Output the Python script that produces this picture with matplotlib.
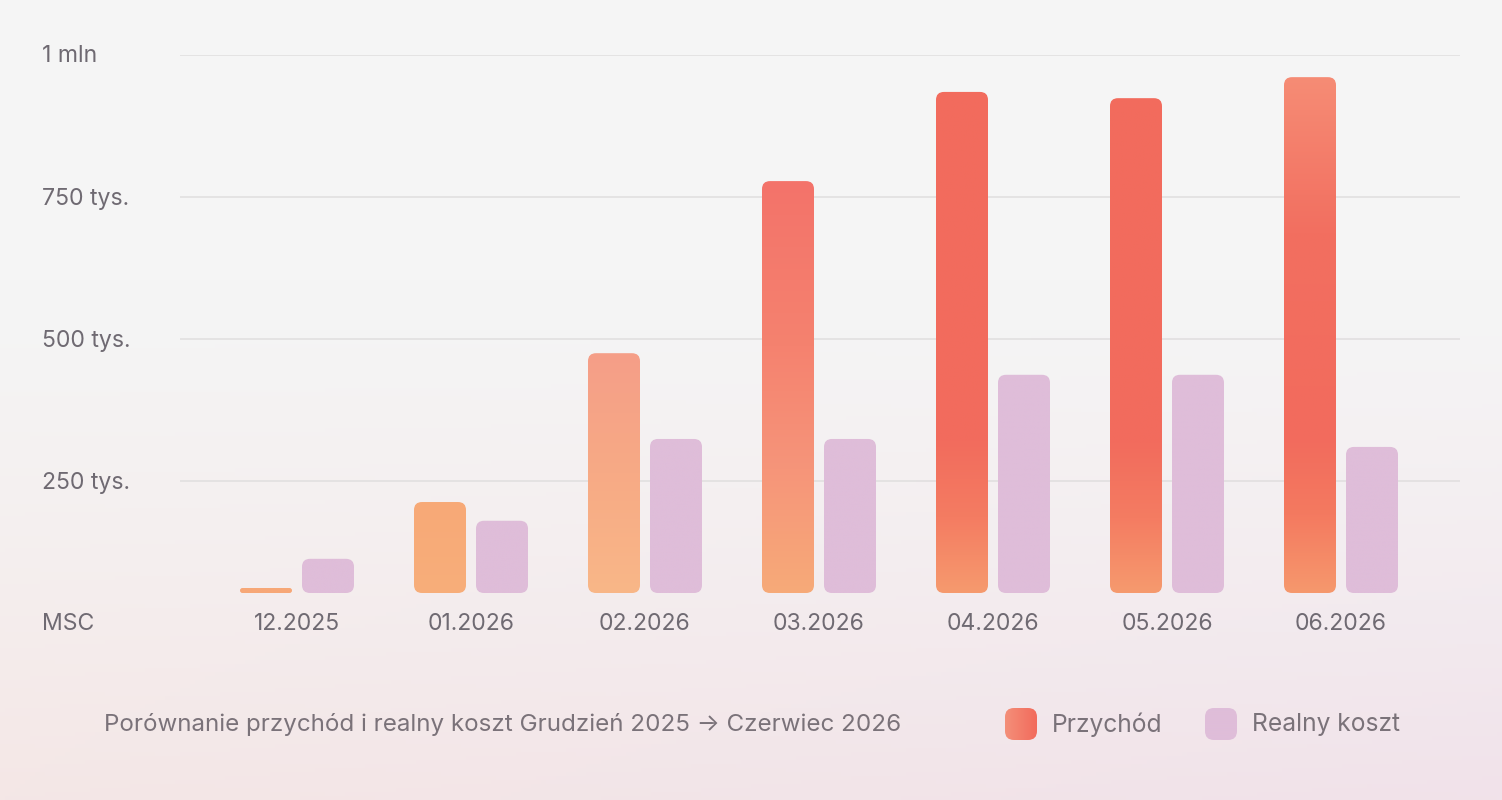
import numpy as np
import matplotlib.pyplot as plt
from matplotlib.patches import FancyBboxPatch
from matplotlib.colors import LinearSegmentedColormap, to_rgb

plt.rcParams['font.family'] = ['Inter', 'DejaVu Sans']

# data (PLN)
months = ['12.2025', '01.2026', '02.2026', '03.2026', '04.2026', '05.2026', '06.2026']
przychod = [0, 213000, 475000, 778000, 935000, 924000, 961000]
realny_koszt = [113000, 180000, 324000, 324000, 437000, 437000, 310000]
y_ticks = [250000, 500000, 750000, 1000000]
y_tick_labels = ['250 tys.', '500 tys.', '750 tys.', '1 mln']
series_names = ['Przychód', 'Realny koszt']
title = 'Porównanie przychód i realny koszt Grudzień 2025 \u2192 Czerwiec 2026'

# styling
W, H = 1502, 800
TXT = '#6f6a72'
GRID = '#e0dede'
KOSZT = '#dfbdd9'
BAR_W_PX = 52
GAP_PX = 10
BASE_PX = 30         # bars float above the zero line
RADIUS_PX = 8
MIN_PX = 5

# gradient stops per revenue bar (fraction from bottom, colour)
rev_grad = [
    [(0, '#f7a877'), (1, '#f7a877')],
    [(0, '#f8ae7a'), (1, '#f7a977')],
    [(0, '#f9b788'), (0.5, '#f7aa85'), (1, '#f59e88')],
    [(0, '#f7aa78'), (0.3, '#f6957a'), (0.6, '#f5826f'), (1, '#f3736a')],
    [(0, '#f69a6e'), (0.15, '#f47c62'), (0.3, '#f26c5d'), (1, '#f26b5d')],
    [(0, '#f69a6e'), (0.15, '#f47c62'), (0.3, '#f26c5d'), (1, '#f26b5d')],
    [(0, '#f6986d'), (0.15, '#f47a60'), (0.3, '#f26b5d'), (0.7, '#f26f60'), (1, '#f68c75')],
]

fig = plt.figure(figsize=(W / 100, H / 100), dpi=100)

# background gradient
bg = fig.add_axes([0, 0, 1, 1])
bg.set_axis_off()
yy, xx = np.mgrid[0:1:200j, 0:1:300j]
top = np.array(to_rgb('#f5f5f5'))
bl = np.array(to_rgb('#f4e7e6'))
br = np.array(to_rgb('#f1e2ea'))
v = np.clip((yy - 0.35) / 0.65, 0, 1)[..., None] ** 1.3
bottom = bl * (1 - xx[..., None]) + br * xx[..., None]
bg.imshow(top * (1 - v) + bottom * v, extent=[0, W, H, 0], aspect='auto')
bg.set_xlim(0, W)
bg.set_ylim(H, 0)

# main axes: x from 180 to 1460 px, y zero at 623 px, 1 mln at 55 px
x_left, x_right, y_top, y_zero = 180, 1460, 55, 623
ax = fig.add_axes([x_left / W, (H - y_zero) / H, (x_right - x_left) / W, (y_zero - y_top) / H])
ax.patch.set_alpha(0)
step = 174
c0 = 297
ax.set_xlim((x_left - c0) / step, (x_right - c0) / step)
ax.set_ylim(0, 1000000)
for s in ax.spines.values():
    s.set_visible(False)
ax.set_xticks([])
ax.set_yticks([])
for t in y_ticks:
    ax.axhline(t, color=GRID, lw=1.1, zorder=0)

xu = 1.0 / step                       # x data units per pixel
yu = 1000000 / (y_zero - y_top)       # y data units per pixel
aspect = yu / xu
base = BASE_PX * yu


def draw_bar(xc, val, fill_stops):
    x0 = xc - BAR_W_PX * xu / 2
    y1 = max(val, base + MIN_PX * yu)
    h = y1 - base
    r = min(RADIUS_PX, (h / yu) / 2) * xu
    patch = FancyBboxPatch((x0, base), BAR_W_PX * xu, h,
                           boxstyle='round,pad=0,rounding_size=%f' % r,
                           mutation_aspect=aspect, lw=0, fc='none', zorder=2)
    ax.add_patch(patch)
    cmap = LinearSegmentedColormap.from_list('g', fill_stops)
    grad = np.linspace(1, 0, 256)[:, None]
    im = ax.imshow(grad, cmap=cmap, vmin=0, vmax=1, aspect='auto',
                   extent=[x0, x0 + BAR_W_PX * xu, base, y1], zorder=2, interpolation='bilinear')
    im.set_clip_path(patch)


offset = (BAR_W_PX + GAP_PX) / 2 * xu
for i, m in enumerate(months):
    draw_bar(i - offset, przychod[i], rev_grad[i])
    draw_bar(i + offset, realny_koszt[i], [(0, KOSZT), (1, KOSZT)])

ax.set_xlim((x_left - c0) / step, (x_right - c0) / step)
ax.set_ylim(0, 1000000)

# month labels on the zero line
for i, m in enumerate(months):
    bg.text(c0 + i * step, y_zero + 1.5, m, ha='center', va='center', fontsize=16.5, color=TXT)

# y labels on the left edge
for t, lab in zip(y_ticks, y_tick_labels):
    bg.text(42, y_zero - t / yu + 1.5, lab, ha='left', va='center', fontsize=16.6, color=TXT)
bg.text(42, y_zero + 1.5, 'MSC', ha='left', va='center', fontsize=16.6, color=TXT)

# caption
bg.text(104, 725, title, ha='left', va='center', fontsize=17.4, color='#7a7279')

# legend
leg_x = [1005, 1205]
for k, name in enumerate(series_names):
    sw = FancyBboxPatch((leg_x[k], 708), 32, 32, boxstyle='round,pad=0,rounding_size=9',
                        lw=0, fc='none', zorder=3)
    bg.add_patch(sw)
    if k == 0:
        cm = LinearSegmentedColormap.from_list('l', ['#f48f79', '#f26b5c'])
    else:
        cm = LinearSegmentedColormap.from_list('l', [KOSZT, KOSZT])
    im = bg.imshow(np.linspace(0, 1, 64)[None, :], cmap=cm, aspect='auto',
                   extent=[leg_x[k], leg_x[k] + 32, 740, 708], zorder=3)
    im.set_clip_path(sw)
    bg.text(leg_x[k] + 47, 725, name, ha='left', va='center', fontsize=17.7, color='#7a7279')
bg.set_xlim(0, W)
bg.set_ylim(H, 0)

fig.savefig('out.png', dpi=100)
